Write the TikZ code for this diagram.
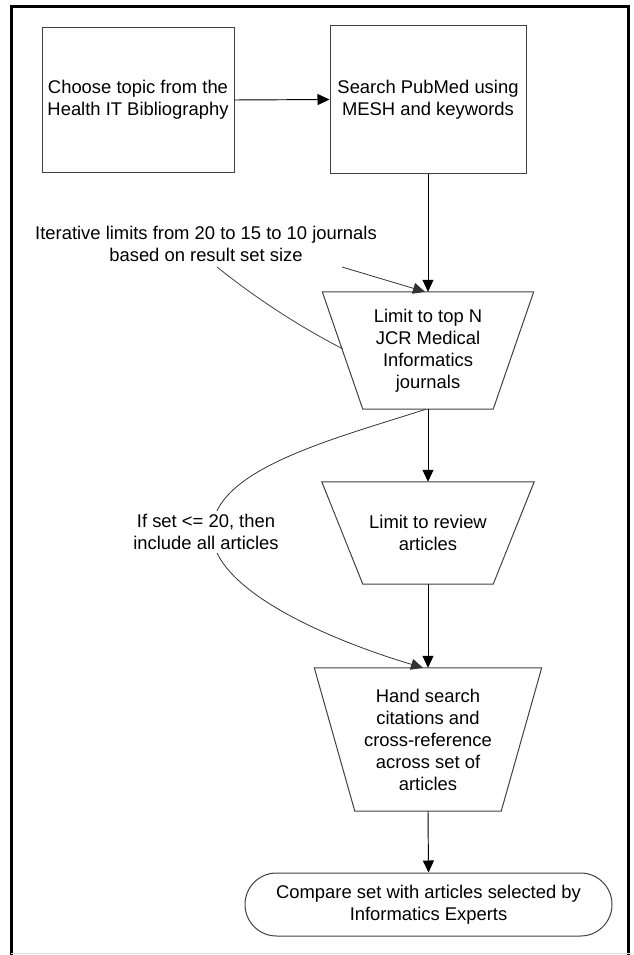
\documentclass[tikz,border=0pt]{standalone}
\usepackage{fontspec}
\setmainfont{Liberation Sans}
\usetikzlibrary{arrows.meta}
\begin{document}
\begin{tikzpicture}[x=1pt,y=-1pt,
  txt/.style={inner sep=0pt, align=center, font=\fontsize{18.4}{22}\selectfont},
  box/.style={txt, draw=black!75, line width=1pt},
  shapeline/.style={draw=black!75, line width=1pt},
  conn/.style={draw=black, line width=0.95pt, -{Triangle[length=12pt,width=11pt]}},
  thinconn/.style={draw=black!80, line width=0.8pt, -{Triangle[length=12pt,width=11pt]}},
  noteline/.style={draw=black!75, line width=0.8pt}]
\useasboundingbox (0,0) rectangle (633,955);
% frame
\draw[line width=3pt] (11,955) -- (11,7) -- (628,7) -- (628,955);
\draw[black!12, line width=1pt] (11,953) -- (633,953);
% boxes
\node[box, minimum width=192pt, minimum height=144pt] (b1) at (138,100) {Choose topic from the\\Health IT Bibliography};
\node[box, minimum width=196pt, minimum height=147pt] (b2) at (428,99.5) {Search PubMed using\\MESH and keywords};
% trapezoids
\node[txt, minimum width=130pt, minimum height=117pt] (t1) at (428,350.5) {Limit to top N\\JCR Medical\\Informatics\\journals};
\draw[shapeline] ([xshift=-40.5pt]t1.north west) -- ([xshift=40.5pt]t1.north east) -- (t1.south east) -- (t1.south west) -- cycle;
\node[txt, minimum width=130pt, minimum height=102pt] (t2) at (428,533) {Limit to review\\articles};
\draw[shapeline] ([xshift=-41pt]t2.north west) -- ([xshift=41pt]t2.north east) -- (t2.south east) -- (t2.south west) -- cycle;
\node[txt, minimum width=146pt, minimum height=143pt] (t3) at (428,739.5) {Hand search\\citations and\\cross-reference\\across set of\\articles};
\draw[shapeline] ([xshift=-40.5pt]t3.north west) -- ([xshift=40.5pt]t3.north east) -- (t3.south east) -- (t3.south west) -- cycle;
% terminal
\node[box, rounded corners=31.5pt, minimum width=367pt, minimum height=63pt] (s) at (428.5,904.5) {Compare set with articles selected by\\Informatics Experts};
% main connectors
\draw[conn] (b1.east) -- (b2.west);
\draw[conn] (b2.south) -- (t1.north);
\draw[conn] (t1.south) -- (t2.north);
\draw[conn] (t2.south) -- (t3.north);
\draw[conn] (t3.south) -- (s.north);
% annotation 1
\node[txt] (n1) at (206,244) {Iterative limits from 20 to 15 to 10 journals\\based on result set size};
\coordinate (a1) at (342,267);
\draw[thinconn] (a1) -- ([xshift=-3pt]t1.north);
\coordinate (c1) at (217,267);
\coordinate (c2) at (343,349);
\draw[noteline] (c1) .. controls (256.3,298.5) and (298.3,325.9) .. (c2);
% annotation 2
\draw[thinconn] ([xshift=-2pt]t1.south) .. controls (330,440) and (212,470) .. (212,532) .. controls (212,590) and (330,640) .. ([xshift=-5pt]t3.north);
\node[txt, fill=white, inner sep=3pt] (n2) at (206,532) {If set <= 20, then\\include all articles};
\end{tikzpicture}
\end{document}
